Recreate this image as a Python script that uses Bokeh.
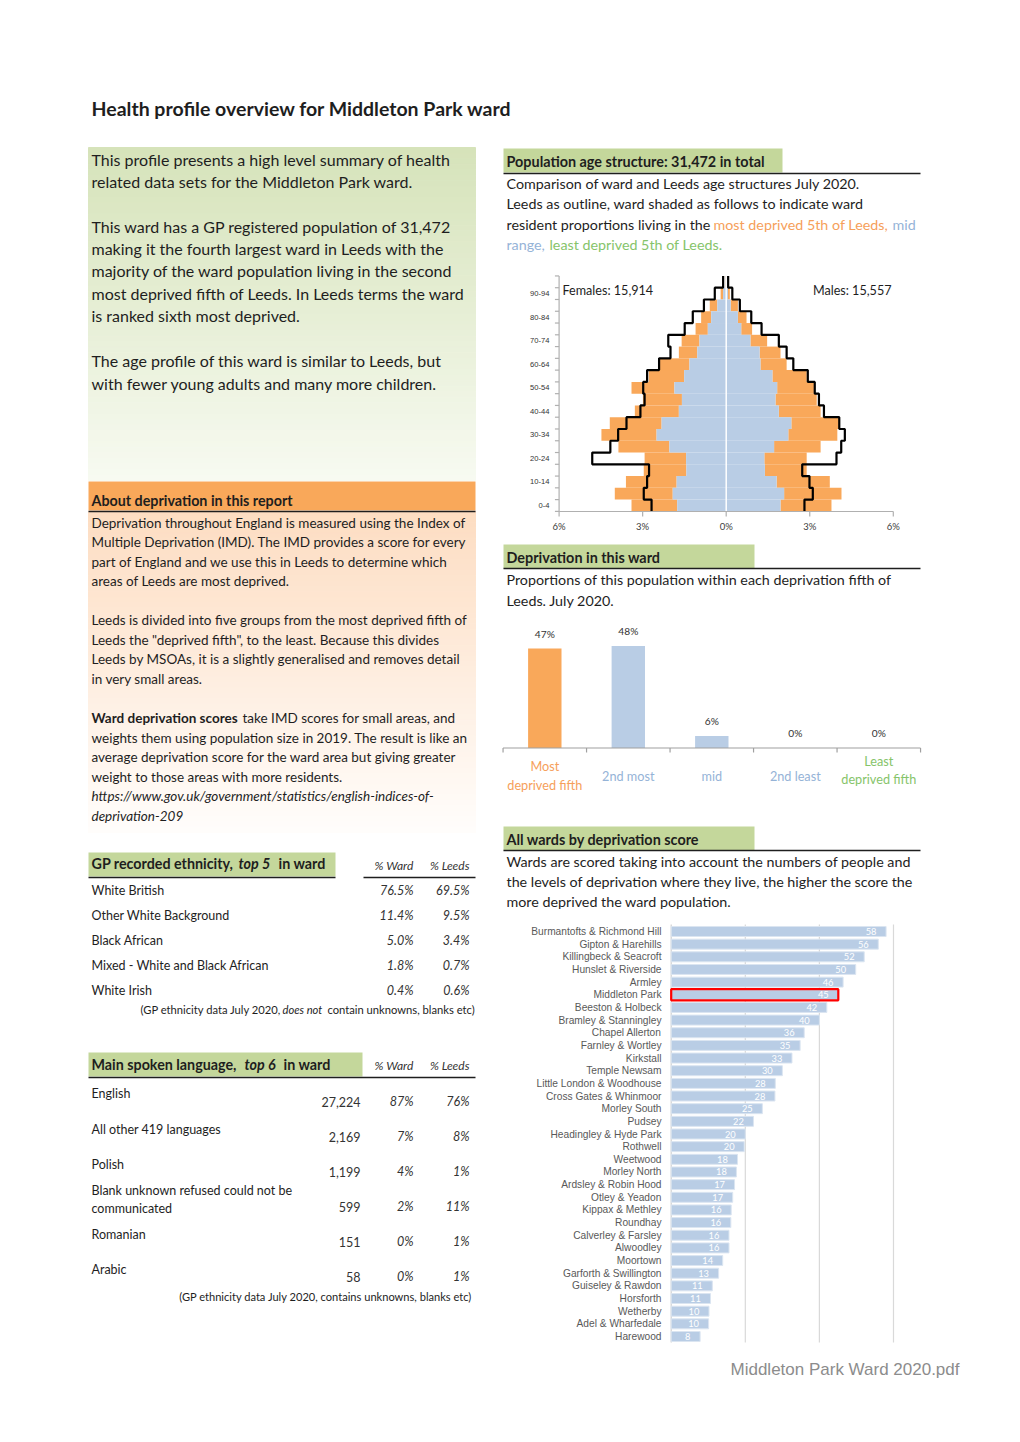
import numpy as np
from bokeh.plotting import figure
from bokeh.models import Range1d
from bokeh.core.properties import value
from bokeh.embed import file_html
from bokeh.resources import INLINE

# ---------------- data ----------------
age_bands = ["0-4", "5-9", "10-14", "15-19", "20-24", "25-29", "30-34", "35-39", "40-44", "45-49",
             "50-54", "55-59", "60-64", "65-69", "70-74", "75-79", "80-84", "85-89", "90-94", "95+"]
# ward % of population, split into mid-range (blue) and most deprived (orange) portions
female_mid = [1.76, 1.92, 1.78, 1.43, 1.44, 2.04, 2.50, 2.32, 1.70, 1.59, 1.86, 1.51, 1.32, 1.04, 0.96, 0.66, 0.54, 0.32, 0.11, 0.02]
female_most = [1.64, 2.08, 1.82, 1.53, 1.49, 1.83, 1.98, 1.86, 1.58, 1.40, 1.54, 1.27, 1.06, 0.66, 0.64, 0.44, 0.36, 0.27, 0.09, 0.02]
male_mid = [1.95, 2.08, 1.81, 1.39, 1.37, 1.72, 2.23, 2.34, 1.89, 1.77, 1.83, 1.66, 1.23, 1.20, 0.87, 0.54, 0.42, 0.16, 0.06, 0.02]
male_most = [1.83, 2.06, 1.91, 1.50, 1.52, 1.67, 1.76, 1.71, 1.50, 1.48, 1.32, 1.23, 0.94, 0.75, 0.60, 0.39, 0.31, 0.26, 0.07, 0.01]
leeds_female = [2.68, 2.96, 2.84, 2.77, 4.81, 4.16, 3.88, 3.58, 3.08, 2.93, 2.98, 2.84, 2.41, 2.00, 2.08, 1.49, 1.20, 0.80, 0.41, 0.11]
leeds_male = [2.81, 3.11, 2.99, 2.73, 3.96, 4.13, 4.26, 4.06, 3.51, 3.33, 3.18, 2.93, 2.41, 2.17, 1.89, 1.27, 0.90, 0.49, 0.22, 0.07]
pyr_ticks = [-6, -3, 0, 3, 6]
pyr_tick_labels = ["6%", "3%", "0%", "3%", "6%"]

dep_fifths = ["Most deprived fifth", "2nd most", "mid", "2nd least", "Least deprived fifth"]
dep_pct = [46.6, 47.8, 5.6, 0.0, 0.0]

wards = ["Burmantofts & Richmond Hill", "Gipton & Harehills", "Killingbeck & Seacroft", "Hunslet & Riverside",
         "Armley", "Middleton Park", "Beeston & Holbeck", "Bramley & Stanningley", "Chapel Allerton",
         "Farnley & Wortley", "Kirkstall", "Temple Newsam", "Little London & Woodhouse", "Cross Gates & Whinmoor",
         "Morley South", "Pudsey", "Headingley & Hyde Park", "Rothwell", "Weetwood", "Morley North",
         "Ardsley & Robin Hood", "Otley & Yeadon", "Kippax & Methley", "Roundhay", "Calverley & Farsley",
         "Alwoodley", "Moortown", "Garforth & Swillington", "Guiseley & Rawdon", "Horsforth", "Wetherby",
         "Adel & Wharfedale", "Harewood"]
ward_score = [58.0, 55.9, 52.1, 49.8, 46.4, 45.1, 42.0, 40.0, 35.9, 34.8, 32.6, 30.0, 28.1, 28.0, 24.6, 22.2,
              20.0, 19.7, 17.9, 17.6, 17.1, 16.6, 16.2, 16.1, 15.6, 15.6, 13.9, 12.8, 11.1, 10.6, 10.2, 10.1, 7.8]
ward_grid = [20, 40, 60]
this_ward = "Middleton Park"

ethnicity = ["White British", "Other White Background", "Black African", "Mixed - White and Black African", "White Irish"]
eth_ward = [76.5, 11.4, 5.0, 1.8, 0.4]
eth_leeds = [69.5, 9.5, 3.4, 0.7, 0.6]

languages = ["English", "All other 419 languages", "Polish", "Blank unknown refused could not be|communicated",
             "Romanian", "Arabic"]
lang_count = [27224, 2169, 1199, 599, 151, 58]
lang_ward = [87, 7, 4, 2, 0, 0]
lang_leeds = [76, 8, 1, 11, 1, 1]

# ---------------- styles ----------------
ORANGE = "#F9A85A"
BLUE = "#B9CDE5"
GREEN_HDR = "#C4D79B"
TXT = "#1e1e1e"
ORANGE_TXT = "#F6A05A"
BLUE_TXT = "#95B3D7"
GREEN_TXT = "#86C46A"
FONT = "Lato"
BODY = 14.3      # right-hand body text
ABOUT = 13.5     # about-deprivation body text

W, H = 1004, 1426
p = figure(width=W, height=H, x_range=Range1d(0, W), y_range=Range1d(H, 0),
           output_backend="svg", toolbar_location=None, x_axis_type=None, y_axis_type=None,
           min_border=0, title=None)
p.outline_line_color = None
p.background_fill_color = "white"
p.border_fill_color = "white"


def lin_range(va, pa, vb, pb, p_start, p_end):
    k = (vb - va) / (pb - pa)
    return Range1d(start=va + (p_start - pa) * k, end=va + (p_end - pa) * k)


# chart placement on the page
p.extra_x_ranges = {
    "pyr": lin_range(0, 725.7, 6, 892.8, 0, W),
    "dep": lin_range(0, 544.3, 4, 878.3, 0, W),
    "ward": lin_range(0, 670.7, 60, 893.0, 0, W),
}
p.extra_y_ranges = {
    "pyr": lin_range(0, 505.0, 18, 293.1, H, 0),
    "dep": lin_range(0, 747.5, 100, 534.0, H, 0),
    "ward": lin_range(0, 931.0, 32, 1336.0, H, 0),
}


def T(x, y, s, size, color=TXT, font=FONT, style="normal", align="left", xr="default", yr="default",
      baseline="middle"):
    xs = x if isinstance(x, (list, tuple, np.ndarray)) else [x]
    ys = y if isinstance(y, (list, tuple, np.ndarray)) else [y] * len(xs)
    ss = s if isinstance(s, (list, tuple)) else [s] * len(xs)
    p.text(x=list(xs), y=list(ys), text=list(ss), text_font=value(font), text_font_size=f"{size}px",
           text_color=color, text_font_style=style, text_align=align, text_baseline=baseline,
           x_range_name=xr, y_range_name=yr)


def hexrgb(c):
    c = c.lstrip("#")
    return [int(c[i:i + 2], 16) for i in (0, 2, 4)]


def gradient(x0, x1, y0, y1, c0, c1, n=60):
    a, b = np.array(hexrgb(c0)), np.array(hexrgb(c1))
    ys = np.linspace(y0, y1, n + 1)
    cols = []
    for t in np.linspace(0, 1, n):
        r, g, bb = (a + (b - a) * t).round().astype(int)
        cols.append(f"#{r:02x}{g:02x}{bb:02x}")
    p.quad(left=x0, right=x1, top=ys[:-1], bottom=ys[1:], fill_color=cols, line_color=cols, line_width=1)


def box(x0, x1, y0, y1, color):
    p.quad(left=[x0], right=[x1], top=[y0], bottom=[y1], fill_color=color, line_color=None)


def hline(x0, x1, y, color="#262626", width=1.0):
    p.segment(x0=[x0], x1=[x1], y0=[y], y1=[y], line_color=color, line_width=width)


# ---------------- title ----------------
T(91, 108, "Health profile overview for Middleton Park ward", 19.5, style="bold")

# ---------------- left: intro ----------------
gradient(88, 475, 147, 480, "#D6E3BA", "#F7FAF1")
intro = [
    (159, "This profile presents a high level summary of health"),
    (181, "related data sets for the Middleton Park ward."),
    (226, "This ward has a GP registered population of 31,472"),
    (248, "making it the fourth largest ward in Leeds with the"),
    (270, "majority of the ward population living in the second"),
    (293, "most deprived fifth of Leeds. In Leeds terms the ward"),
    (315, "is ranked sixth most deprived."),
    (360, "The age profile of this ward is similar to Leeds, but"),
    (383, "with fewer young adults and many more children."),
]
T([91] * len(intro), [a for a, _ in intro], [b for _, b in intro], 16)

# ---------------- left: about deprivation ----------------
box(88, 475, 481, 510, ORANGE)
gradient(88, 475, 511, 832, "#FDDDC2", "#FFFDFB")
hline(88, 475, 511, "#1e1e1e", 1.3)
T(91, 500, "About deprivation in this report", 14.3, style="bold")
about = [
    (522, "Deprivation throughout England is measured using the Index of"),
    (541, "Multiple Deprivation (IMD). The IMD provides a score for every"),
    (561, "part of England and we use this in Leeds to determine which"),
    (580, "areas of Leeds are most deprived."),
    (619, "Leeds is divided into five groups from the most deprived fifth of"),
    (639, "Leeds the \"deprived fifth\", to the least. Because this divides"),
    (658, "Leeds by MSOAs, it is a slightly generalised and removes detail"),
    (678, "in very small areas."),
    (737, "weights them using population size in 2019. The result is like an"),
    (756, "average deprivation score for the ward area but giving greater"),
    (776, "weight to those areas with more residents."),
]
T([91] * len(about), [a for a, _ in about], [b for _, b in about], ABOUT)
T(91, 717, "Ward deprivation scores", ABOUT, style="bold")
T(242, 717, "take IMD scores for small areas, and", ABOUT)
T(91, 795, "https://www.gov.uk/government/statistics/english-indices-of-", ABOUT, style="italic")
T(91, 815, "deprivation-209", ABOUT, style="italic")

# ---------------- left: ethnicity table ----------------
box(88, 335, 852, 876, GREEN_HDR)
hline(88, 335, 877, "#1e1e1e", 1.5)
hline(363, 475, 877, "#1e1e1e", 1.5)
T(91, 863, "GP recorded ethnicity,", 14.3, style="bold")
T(238, 863, "top 5", 14.3, style="bold italic")
T(278, 863, "in ward", 14.3, style="bold")
T(413, 865, "% Ward", 12, color="#333333", style="italic", align="right")
T(469, 865, "% Leeds", 12, color="#333333", style="italic", align="right")
eth_y = [890, 915, 940, 965, 990]
T([91] * 5, eth_y, ethnicity, 12.5)
T([413] * 5, eth_y, [f"{v:.1f}%" for v in eth_ward], 12.5, color="#333333", style="italic", align="right")
T([469] * 5, eth_y, [f"{v:.1f}%" for v in eth_leeds], 12.5, color="#333333", style="italic", align="right")
T(140, 1009, "(GP ethnicity data July 2020,", 11.2)
T(282, 1009, "does not", 11.2, style="italic")
T(327, 1009, "contain unknowns, blanks etc)", 11.2)

# ---------------- left: language table ----------------
box(88, 362, 1052, 1076, GREEN_HDR)
hline(88, 475, 1077, "#1e1e1e", 1.5)
T(91, 1064, "Main spoken language,", 14.3, style="bold")
T(244, 1064, "top 6", 14.3, style="bold italic")
T(283, 1064, "in ward", 14.3, style="bold")
T(413, 1065, "% Ward", 12, color="#333333", style="italic", align="right")
T(469, 1065, "% Leeds", 12, color="#333333", style="italic", align="right")
lang_name_y = [1093, 1129, 1164, 1190, 1234, 1269]
lang_num_y = [1101, 1136, 1171, 1206, 1241, 1276]
for ny, name in zip(lang_name_y, languages):
    parts = name.split("|")
    for k, part in enumerate(parts):
        T(91, ny + 18 * k, part, 12.5)
T([360] * 6, lang_num_y, [f"{c:,}" for c in lang_count], 12.5, color="#333333", align="right")
T([413] * 6, lang_num_y, [f"{v}%" for v in lang_ward], 12.5, color="#333333", style="italic", align="right")
T([469] * 6, lang_num_y, [f"{v}%" for v in lang_leeds], 12.5, color="#333333", style="italic", align="right")
T(472, 1296, "(GP ethnicity data July 2020, contains unknowns, blanks etc)", 11.1, align="right")

# ---------------- right: population header ----------------
box(503, 782, 148, 172, GREEN_HDR)
hline(503, 920, 173, "#1e1e1e", 1.3)
T(506, 161, "Population age structure: 31,472 in total", 14.4, style="bold")
T(506, 183, "Comparison of ward and Leeds age structures July 2020.", BODY)
T(506, 203, "Leeds as outline, ward shaded as follows to indicate ward", BODY)
T(506, 224, "resident proportions living in the", BODY)
T(713, 224, "most deprived 5th of Leeds,", BODY, color=ORANGE_TXT)
T(892, 224, "mid", BODY, color=BLUE_TXT)
T(506, 244, "range,", BODY, color=BLUE_TXT)
T(549, 244, "least deprived 5th of Leeds.", BODY, color=GREEN_TXT)

# ---------------- pyramid ----------------
band = np.arange(len(age_bands))
fm = np.array(female_mid)
ft = fm + np.array(female_most)
mm = np.array(male_mid)
mt = mm + np.array(male_most)
p.hbar(y=band, left=-ft, right=-fm, height=1.0, fill_color=ORANGE, line_color=None,
       x_range_name="pyr", y_range_name="pyr")
p.hbar(y=band, left=-fm, right=0, height=1.0, fill_color=BLUE, line_color=None,
       x_range_name="pyr", y_range_name="pyr")
p.hbar(y=band, left=mm, right=mt, height=1.0, fill_color=ORANGE, line_color=None,
       x_range_name="pyr", y_range_name="pyr")
p.hbar(y=band, left=0, right=mm, height=1.0, fill_color=BLUE, line_color=None,
       x_range_name="pyr", y_range_name="pyr")
p.segment(x0=[0], x1=[0], y0=[-0.5], y1=[len(band) - 0.5], line_color="white", line_width=1.5,
          x_range_name="pyr", y_range_name="pyr")
for side, vals in ((-1, leeds_female), (1, leeds_male)):
    xs, ys = [], []
    for i, v in enumerate(vals):
        xs += [side * v, side * v]
        ys += [i - 0.5, i + 0.5]
    p.line(xs, ys, line_color="black", line_width=2.2, x_range_name="pyr", y_range_name="pyr")
# axes
p.segment(x0=[-6], x1=[-6], y0=[-0.5], y1=[len(band) - 0.5], line_color="#b0b0b0", line_width=1.2,
          x_range_name="pyr", y_range_name="pyr")
bounds = np.arange(len(band) + 1) - 0.5
p.segment(x0=[-6] * len(bounds), x1=[-6.15] * len(bounds), y0=bounds, y1=bounds, line_color="#b0b0b0",
          line_width=1.2, x_range_name="pyr", y_range_name="pyr")
p.segment(x0=[-6], x1=[6], y0=[511], y1=[511], line_color="#b0b0b0", line_width=1.2, x_range_name="pyr")
p.segment(x0=pyr_ticks, x1=pyr_ticks, y0=[511] * 5, y1=[516] * 5, line_color="#b0b0b0", line_width=1.2,
          x_range_name="pyr")
T(pyr_ticks, [526] * 5, pyr_tick_labels, 9.5, color="#404040", align="center", xr="pyr")
T([549] * 10, list(band[::2]), age_bands[::2][:10], 7.6, color="#333333", align="right", yr="pyr",
  font="Liberation Sans")
T(562, 290, "Females: 15,914", 12.6)
T(891, 290, "Males: 15,557", 12.6, align="right")

# ---------------- right: deprivation in this ward ----------------
box(503, 754, 544, 568, GREEN_HDR)
hline(503, 920, 568, "#1e1e1e", 1.3)
T(506, 557, "Deprivation in this ward", 14.4, style="bold")
T(506, 579, "Proportions of this population within each deprivation fifth of", BODY)
T(506, 600, "Leeds. July 2020.", BODY)
dep_x = np.arange(len(dep_fifths))
dep_colors = [ORANGE, BLUE, BLUE, BLUE, "#9BD17F"]
dep_txt_colors = [ORANGE_TXT, BLUE_TXT, BLUE_TXT, BLUE_TXT, GREEN_TXT]
p.vbar(x=dep_x, top=dep_pct, bottom=0, width=0.4, fill_color=dep_colors, line_color=None,
       x_range_name="dep", y_range_name="dep")
T(list(dep_x), [v + 7 for v in dep_pct], [f"{int(v + 0.5)}%" for v in dep_pct], 10.2,
  color="#333333", align="center", xr="dep", yr="dep")
p.segment(x0=[-0.5], x1=[4.5], y0=[747.5], y1=[747.5], line_color="#a0a0a0", line_width=1.2, x_range_name="dep")
dep_bounds = list(np.arange(len(dep_fifths) + 1) - 0.5)
p.segment(x0=dep_bounds, x1=dep_bounds, y0=[747.5] * 6, y1=[752] * 6, line_color="#a0a0a0", line_width=1.2,
          x_range_name="dep")
dep_label_y = {0: [765, 784], 4: [760, 778]}
for j, lab in enumerate(dep_fifths):
    if j in dep_label_y:
        w = lab.split(" ")
        lines = [w[0], " ".join(w[1:])]
        for ly, line in zip(dep_label_y[j], lines):
            T(j, ly, line, 12.7, color=dep_txt_colors[j], align="center", xr="dep")
    else:
        T(j, 775, lab, 12.7, color=dep_txt_colors[j], align="center", xr="dep")

# ---------------- right: all wards ----------------
box(503, 754, 826, 850, GREEN_HDR)
hline(503, 920, 850, "#1e1e1e", 1.3)
T(506, 839, "All wards by deprivation score", 14.4, style="bold")
T(506, 861, "Wards are scored taking into account the numbers of people and", BODY)
T(506, 881, "the levels of deprivation where they live, the higher the score the", BODY)
T(506, 901, "more deprived the ward population.", BODY)

widx = np.arange(len(wards))
p.segment(x0=ward_grid, x1=ward_grid, y0=[924] * 3, y1=[1342] * 3, line_color="#d9d9d9", line_width=1.2,
          x_range_name="ward")
p.segment(x0=[0], x1=[0], y0=[924], y1=[1342], line_color="#d0d0d0", line_width=1.2, x_range_name="ward")
p.hbar(y=widx, left=0, right=ward_score, height=0.79, fill_color=BLUE, line_color="#dbe5f1", line_width=1,
       x_range_name="ward", y_range_name="ward")
hi = wards.index(this_ward)
p.hbar(y=[hi], left=0, right=[ward_score[hi]], height=0.88, fill_alpha=0, line_color="#ff0000", line_width=2.2,
       x_range_name="ward", y_range_name="ward")
T([v - 2.6 for v in ward_score], list(widx), [str(int(v + 0.5)) for v in ward_score], 9.3, color="white",
  align="right", xr="ward", yr="ward")
T([661] * len(wards), list(widx), wards, 10.2, color="#595959", align="right", yr="ward", font="Liberation Sans")

# ---------------- footer ----------------
T(959, 1369, "Middleton Park Ward 2020.pdf", 17, color="#8c8c8c", align="right", font="Liberation Sans")

open("out.html", "w").write(file_html(p, INLINE))
